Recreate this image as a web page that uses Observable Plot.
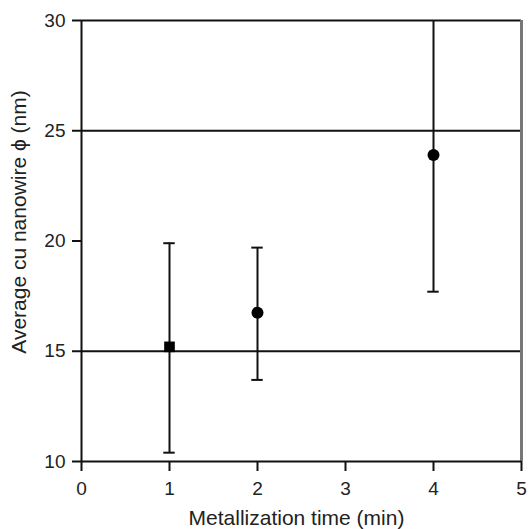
<!DOCTYPE html>
<html><head><meta charset="utf-8">
<script src="https://cdn.jsdelivr.net/npm/d3@7"></script>
<script src="https://cdn.jsdelivr.net/npm/@observablehq/plot@0.6"></script>
<style>
body{margin:0;background:#fff}
#chart svg g[aria-label="ticklab"] {font-size:19px !important;}
#chart svg g[aria-label="xlabel"], #chart svg g[aria-label="ylabel"] {font-size:21px !important;}
</style>
</head><body><div id="chart"></div>
<script>
const times = [1, 2, 4];
const means = [15.2, 16.75, 23.9];
const lower = [10.4, 13.7, 17.7];
const upper = [19.9, 19.7, 30.5];
const symbols = ["square", "circle", "circle"];
const xTicks = [0, 1, 2, 3, 4, 5];
const yTicks = [10, 15, 20, 25, 30];
const hLines = [15, 25];
const xLabel = "Metallization time (min)";
const yLabel = "Average cu nanowire ϕ (nm)";

const data = times.map((t, i) => ({x: t, m: means[i], lo: lower[i], hi: upper[i], s: symbols[i]}));
const capHalf = 0.065;
const txt = "#222";

const chart = Plot.plot({
  width: 529, height: 529,
  marginLeft: 81, marginRight: 8, marginTop: 20, marginBottom: 68,
  style: {fontFamily: "'Liberation Sans', Arial, sans-serif", fontSize: "19px", color: "#222", background: "#fff", overflow: "visible"},
  x: {domain: [0, 5]},
  y: {domain: [10, 30]},
  marks: [
    Plot.ruleY(hLines, {stroke: "#111", strokeWidth: 2}),
    Plot.ruleY([30], {stroke: "#111", strokeWidth: 2}),
    Plot.ruleX([5], {stroke: "#777", strokeWidth: 3}),
    Plot.ruleX(data, {x: "x", y1: "lo", y2: "hi", stroke: "#111", strokeWidth: 2, clip: true}),
    Plot.ruleY(data.filter(d => d.hi <= 30), {y: "hi", x1: d => d.x - capHalf, x2: d => d.x + capHalf, stroke: "#111", strokeWidth: 2}),
    Plot.ruleY(data, {y: "lo", x1: d => d.x - capHalf, x2: d => d.x + capHalf, stroke: "#111", strokeWidth: 2}),
    Plot.dot(data, {x: "x", y: "m", symbol: "s", r: 6, fill: "#000", stroke: "none"}),
    Plot.axisX({ticks: xTicks, tickFormat: () => "", tickSize: 10, strokeWidth: 2, stroke: "#111", label: null}),
    Plot.axisY({ticks: yTicks, tickFormat: () => "", tickSize: 9, strokeWidth: 2, stroke: "#111", label: null}),
    Plot.text(xTicks, {x: d => d, text: d => String(d), frameAnchor: "bottom", dy: 27, lineAnchor: "middle", fontSize: 19, fill: txt, ariaLabel: "ticklab"}),
    Plot.text(yTicks, {y: d => d, text: d => String(d), frameAnchor: "left", dx: -16, textAnchor: "end", lineAnchor: "middle", fontSize: 19, fill: txt, ariaLabel: "ticklab"}),
    Plot.text([xLabel], {text: d => d, frameAnchor: "bottom", dx: -5, dy: 57, lineAnchor: "middle", fontSize: 21, fill: txt, ariaLabel: "xlabel"}),
    Plot.text([yLabel], {text: d => d, frameAnchor: "left", rotate: -90, textAnchor: "middle", dx: -62, dy: -19, fontSize: 21, fill: txt, ariaLabel: "ylabel"}),
    Plot.ruleX([0], {stroke: "#111", strokeWidth: 2}),
    Plot.ruleY([10], {stroke: "#111", strokeWidth: 2})
  ]
});
document.getElementById("chart").appendChild(chart);
</script></body></html>
